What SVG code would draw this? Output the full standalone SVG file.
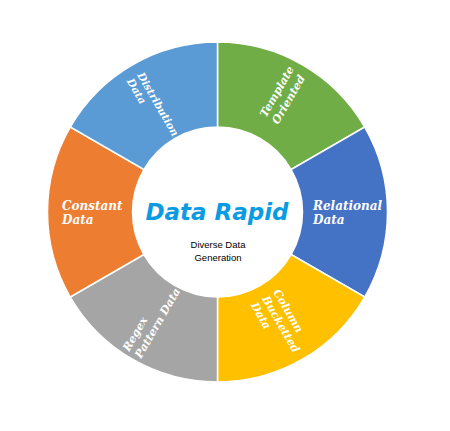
<svg xmlns="http://www.w3.org/2000/svg" width="450" height="431" viewBox="0 0 450 431">
<style>
.seg{stroke:#fff;stroke-width:1.5}
.lbl{font-family:"DejaVu Serif",serif;font-weight:bold;font-style:italic;fill:#fff;font-size:11px}
.hl{font-size:12px}
.title{font-family:"DejaVu Sans",sans-serif;font-weight:bold;font-style:italic;fill:#0a9be3;font-size:23px}
.sub{font-family:"Liberation Sans",sans-serif;fill:#000;font-size:9.5px}
</style>
<rect width="450" height="431" fill="#fff"/>
<g id="template">
<path class="seg" fill="#70AD47" d="M217.5,42 A170,170 0 0 1 364.72,127 L291.11,169.5 A85,85 0 0 0 217.5,127 Z"/>
<g transform="translate(266,118) rotate(-60)"><text class="lbl" x="0" y="0">Template</text><text class="lbl" x="0" y="14">Oriented</text></g>
</g>
<g id="relational">
<path class="seg" fill="#4472C4" d="M364.72,127 A170,170 0 0 1 364.72,297 L291.11,254.5 A85,85 0 0 0 291.11,169.5 Z"/>
<text class="lbl hl" x="313" y="210">Relational</text><text class="lbl hl" x="313" y="224">Data</text>
</g>
<g id="column">
<path class="seg" fill="#FFC000" d="M364.72,297 A170,170 0 0 1 217.5,382 L217.5,297 A85,85 0 0 0 291.11,254.5 Z"/>
<g transform="translate(273,292) rotate(60)"><text class="lbl" x="0" y="0">Column</text><text class="lbl" x="0" y="13">Bucketted</text><text class="lbl" x="0" y="26">Data</text></g>
</g>
<g id="regex">
<path class="seg" fill="#A5A5A5" d="M217.5,382 A170,170 0 0 1 70.28,297 L143.89,254.5 A85,85 0 0 0 217.5,297 Z"/>
<g transform="translate(129,352) rotate(-60)"><text class="lbl" x="0" y="0">Regex</text><text class="lbl" x="0" y="14">Pattern Data</text></g>
</g>
<g id="constant">
<path class="seg" fill="#ED7D31" d="M70.28,297 A170,170 0 0 1 70.28,127 L143.89,169.5 A85,85 0 0 0 143.89,254.5 Z"/>
<text class="lbl hl" x="62" y="210">Constant</text><text class="lbl hl" x="62" y="224">Data</text>
</g>
<g id="distribution">
<path class="seg" fill="#5B9BD5" d="M70.28,127 A170,170 0 0 1 217.5,42 L217.5,127 A85,85 0 0 0 143.89,169.5 Z"/>
<g transform="translate(137,75) rotate(60)"><text class="lbl" x="0" y="0" style="font-size:10.5px">Distribution</text><text class="lbl" x="0" y="12" style="font-size:10.5px">Data</text></g>
</g>
<g id="center">
<text class="title" x="217" y="220" text-anchor="middle">Data Rapid</text>
<text class="sub" x="218" y="248" text-anchor="middle">Diverse Data</text>
<text class="sub" x="218" y="261" text-anchor="middle">Generation</text>
</g>
<g id="connectors"></g>
</svg>
